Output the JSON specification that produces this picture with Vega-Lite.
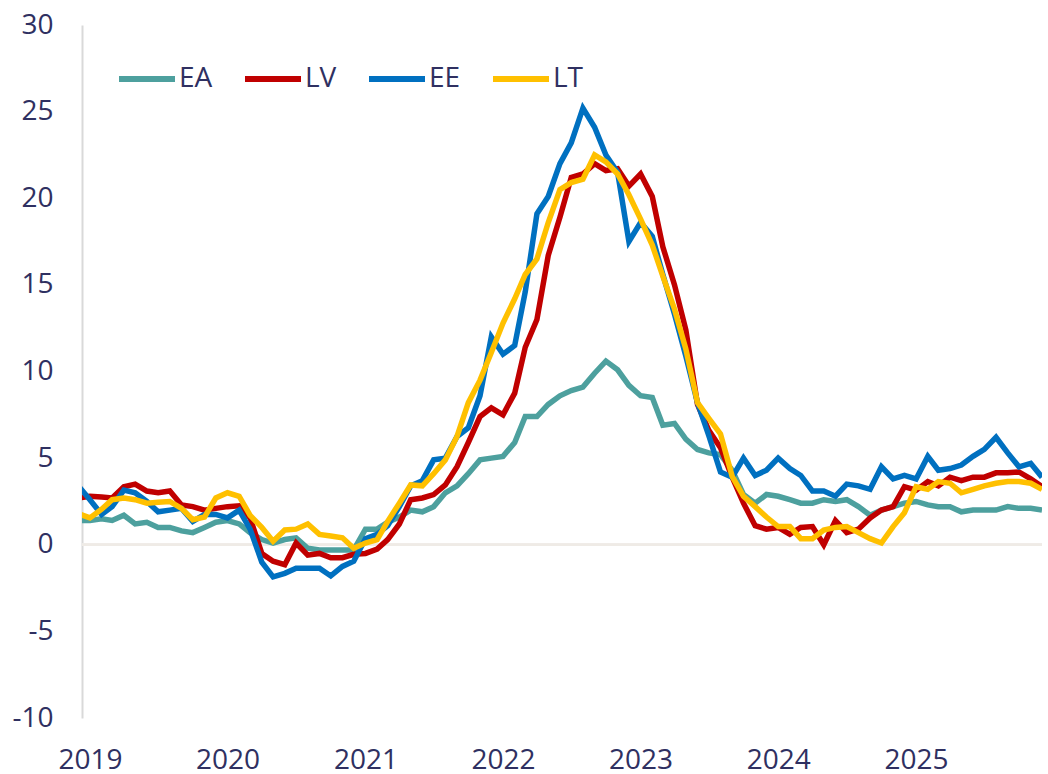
{
  "$schema": "https://vega.github.io/schema/vega-lite/v6.json",
  "width": 960,
  "height": 693,
  "autosize": {"type": "none"},
  "padding": {"left": 82, "top": 25, "right": 6, "bottom": 56},
  "background": "white",
  "config": {"font": "Open Sans", "view": {"stroke": null}},
  "data": {"values": [
    {"date": "2018-12-01", "EA": 1.4, "LV": 2.7, "EE": 3.4, "LT": 1.8},
    {"date": "2019-01-01", "EA": 1.4, "LV": 2.8, "EE": 2.6, "LT": 1.55},
    {"date": "2019-02-01", "EA": 1.5, "LV": 2.75, "EE": 1.75, "LT": 2.05},
    {"date": "2019-03-01", "EA": 1.4, "LV": 2.7, "EE": 2.2, "LT": 2.6},
    {"date": "2019-04-01", "EA": 1.7, "LV": 3.35, "EE": 3.15, "LT": 2.7},
    {"date": "2019-05-01", "EA": 1.2, "LV": 3.5, "EE": 3.0, "LT": 2.6},
    {"date": "2019-06-01", "EA": 1.3, "LV": 3.1, "EE": 2.5, "LT": 2.4},
    {"date": "2019-07-01", "EA": 1.0, "LV": 3.0, "EE": 1.9, "LT": 2.45},
    {"date": "2019-08-01", "EA": 1.0, "LV": 3.1, "EE": 2.0, "LT": 2.5},
    {"date": "2019-09-01", "EA": 0.8, "LV": 2.3, "EE": 2.1, "LT": 2.1},
    {"date": "2019-10-01", "EA": 0.7, "LV": 2.2, "EE": 1.35, "LT": 1.45},
    {"date": "2019-11-01", "EA": 1.0, "LV": 2.0, "EE": 1.75, "LT": 1.6},
    {"date": "2019-12-01", "EA": 1.3, "LV": 2.1, "EE": 1.75, "LT": 2.7},
    {"date": "2020-01-01", "EA": 1.4, "LV": 2.2, "EE": 1.55, "LT": 3.0},
    {"date": "2020-02-01", "EA": 1.2, "LV": 2.25, "EE": 2.0, "LT": 2.8},
    {"date": "2020-03-01", "EA": 0.7, "LV": 1.55, "EE": 0.9, "LT": 1.7},
    {"date": "2020-04-01", "EA": 0.3, "LV": -0.5, "EE": -1.0, "LT": 1.0},
    {"date": "2020-05-01", "EA": 0.1, "LV": -0.95, "EE": -1.85, "LT": 0.2},
    {"date": "2020-06-01", "EA": 0.3, "LV": -1.15, "EE": -1.65, "LT": 0.85},
    {"date": "2020-07-01", "EA": 0.4, "LV": 0.1, "EE": -1.35, "LT": 0.9},
    {"date": "2020-08-01", "EA": -0.2, "LV": -0.6, "EE": -1.35, "LT": 1.2},
    {"date": "2020-09-01", "EA": -0.3, "LV": -0.5, "EE": -1.35, "LT": 0.6},
    {"date": "2020-10-01", "EA": -0.3, "LV": -0.75, "EE": -1.8, "LT": 0.5},
    {"date": "2020-11-01", "EA": -0.3, "LV": -0.75, "EE": -1.25, "LT": 0.4},
    {"date": "2020-12-01", "EA": -0.3, "LV": -0.55, "EE": -0.95, "LT": -0.2},
    {"date": "2021-01-01", "EA": 0.9, "LV": -0.5, "EE": 0.35, "LT": 0.1},
    {"date": "2021-02-01", "EA": 0.9, "LV": -0.25, "EE": 0.6, "LT": 0.3},
    {"date": "2021-03-01", "EA": 1.3, "LV": 0.3, "EE": 1.1, "LT": 1.35},
    {"date": "2021-04-01", "EA": 1.6, "LV": 1.2, "EE": 2.2, "LT": 2.4},
    {"date": "2021-05-01", "EA": 2.0, "LV": 2.6, "EE": 3.4, "LT": 3.45},
    {"date": "2021-06-01", "EA": 1.9, "LV": 2.7, "EE": 3.7, "LT": 3.4},
    {"date": "2021-07-01", "EA": 2.2, "LV": 2.9, "EE": 4.9, "LT": 4.1},
    {"date": "2021-08-01", "EA": 3.0, "LV": 3.45, "EE": 5.0, "LT": 4.9},
    {"date": "2021-09-01", "EA": 3.4, "LV": 4.5, "EE": 6.25, "LT": 6.25},
    {"date": "2021-10-01", "EA": 4.1, "LV": 5.9, "EE": 6.75, "LT": 8.2},
    {"date": "2021-11-01", "EA": 4.9, "LV": 7.4, "EE": 8.6, "LT": 9.5},
    {"date": "2021-12-01", "EA": 5.0, "LV": 7.9, "EE": 12.0, "LT": 11.1},
    {"date": "2022-01-01", "EA": 5.1, "LV": 7.5, "EE": 11.0, "LT": 12.8},
    {"date": "2022-02-01", "EA": 5.9, "LV": 8.75, "EE": 11.5, "LT": 14.2},
    {"date": "2022-03-01", "EA": 7.4, "LV": 11.4, "EE": 14.6, "LT": 15.6},
    {"date": "2022-04-01", "EA": 7.4, "LV": 13.0, "EE": 19.1, "LT": 16.5},
    {"date": "2022-05-01", "EA": 8.1, "LV": 16.7, "EE": 20.1, "LT": 18.6},
    {"date": "2022-06-01", "EA": 8.6, "LV": 18.9, "EE": 22.0, "LT": 20.5},
    {"date": "2022-07-01", "EA": 8.9, "LV": 21.2, "EE": 23.2, "LT": 20.9},
    {"date": "2022-08-01", "EA": 9.1, "LV": 21.4, "EE": 25.2, "LT": 21.1},
    {"date": "2022-09-01", "EA": 9.9, "LV": 22.0, "EE": 24.1, "LT": 22.5},
    {"date": "2022-10-01", "EA": 10.6, "LV": 21.6, "EE": 22.5, "LT": 22.1},
    {"date": "2022-11-01", "EA": 10.1, "LV": 21.7, "EE": 21.5, "LT": 21.4},
    {"date": "2022-12-01", "EA": 9.2, "LV": 20.7, "EE": 17.5, "LT": 20.2},
    {"date": "2023-01-01", "EA": 8.6, "LV": 21.4, "EE": 18.6, "LT": 18.8},
    {"date": "2023-02-01", "EA": 8.5, "LV": 20.1, "EE": 17.8, "LT": 17.3},
    {"date": "2023-03-01", "EA": 6.9, "LV": 17.2, "EE": 15.6, "LT": 15.5},
    {"date": "2023-04-01", "EA": 7.0, "LV": 15.0, "EE": 13.3, "LT": 13.6},
    {"date": "2023-05-01", "EA": 6.1, "LV": 12.4, "EE": 10.9, "LT": 11.3},
    {"date": "2023-06-01", "EA": 5.5, "LV": 8.1, "EE": 8.2, "LT": 8.2},
    {"date": "2023-07-01", "EA": 5.3, "LV": 6.6, "EE": 6.3, "LT": 7.3},
    {"date": "2023-08-01", "EA": 5.2, "LV": 5.6, "EE": 4.2, "LT": 6.4},
    {"date": "2023-09-01", "EA": 4.3, "LV": 3.9, "EE": 3.9, "LT": 3.95},
    {"date": "2023-10-01", "EA": 2.9, "LV": 2.4, "EE": 5.0, "LT": 2.8},
    {"date": "2023-11-01", "EA": 2.4, "LV": 1.1, "EE": 4.0, "LT": 2.2},
    {"date": "2023-12-01", "EA": 2.9, "LV": 0.9, "EE": 4.3, "LT": 1.6},
    {"date": "2024-01-01", "EA": 2.8, "LV": 1.0, "EE": 5.0, "LT": 1.05},
    {"date": "2024-02-01", "EA": 2.6, "LV": 0.6, "EE": 4.4, "LT": 1.05},
    {"date": "2024-03-01", "EA": 2.4, "LV": 1.0, "EE": 4.0, "LT": 0.35},
    {"date": "2024-04-01", "EA": 2.4, "LV": 1.05, "EE": 3.1, "LT": 0.35},
    {"date": "2024-05-01", "EA": 2.6, "LV": 0.0, "EE": 3.1, "LT": 0.85},
    {"date": "2024-06-01", "EA": 2.5, "LV": 1.4, "EE": 2.8, "LT": 1.0},
    {"date": "2024-07-01", "EA": 2.6, "LV": 0.7, "EE": 3.5, "LT": 1.05},
    {"date": "2024-08-01", "EA": 2.2, "LV": 0.9, "EE": 3.4, "LT": 0.7},
    {"date": "2024-09-01", "EA": 1.7, "LV": 1.55, "EE": 3.2, "LT": 0.35},
    {"date": "2024-10-01", "EA": 2.0, "LV": 2.0, "EE": 4.5, "LT": 0.1},
    {"date": "2024-11-01", "EA": 2.2, "LV": 2.2, "EE": 3.8, "LT": 1.05},
    {"date": "2024-12-01", "EA": 2.4, "LV": 3.35, "EE": 4.0, "LT": 1.85},
    {"date": "2025-01-01", "EA": 2.5, "LV": 3.15, "EE": 3.8, "LT": 3.35},
    {"date": "2025-02-01", "EA": 2.3, "LV": 3.65, "EE": 5.1, "LT": 3.2},
    {"date": "2025-03-01", "EA": 2.2, "LV": 3.4, "EE": 4.3, "LT": 3.65},
    {"date": "2025-04-01", "EA": 2.2, "LV": 3.9, "EE": 4.4, "LT": 3.55},
    {"date": "2025-05-01", "EA": 1.9, "LV": 3.7, "EE": 4.6, "LT": 3.0},
    {"date": "2025-06-01", "EA": 2.0, "LV": 3.9, "EE": 5.1, "LT": 3.2},
    {"date": "2025-07-01", "EA": 2.0, "LV": 3.9, "EE": 5.5, "LT": 3.4},
    {"date": "2025-08-01", "EA": 2.0, "LV": 4.15, "EE": 6.2, "LT": 3.55},
    {"date": "2025-09-01", "EA": 2.2, "LV": 4.15, "EE": 5.3, "LT": 3.65},
    {"date": "2025-10-01", "EA": 2.1, "LV": 4.2, "EE": 4.5, "LT": 3.65},
    {"date": "2025-11-01", "EA": 2.1, "LV": 3.8, "EE": 4.7, "LT": 3.55},
    {"date": "2025-12-01", "EA": 2.0, "LV": 3.35, "EE": 3.9, "LT": 3.2}
  ]},
  "layer": [
    {
      "mark": {"type": "rule", "color": "#EFEBE6", "strokeWidth": 2},
      "encoding": {
        "y": {"datum": 0, "type": "quantitative", "scale": {"domain": [-10, 30], "nice": false}}
      }
    },
    {
      "transform": [{"fold": ["EA", "LV", "EE", "LT"], "as": ["series", "value"]}],
      "mark": {"type": "line", "strokeWidth": 5.5, "clip": true},
      "encoding": {
        "x": {
          "field": "date",
          "type": "temporal",
          "scale": {
            "type": "utc",
            "domain": [
              {"year": 2018, "month": 12, "date": 11, "utc": true},
              {"year": 2025, "month": 12, "date": 1, "utc": true}
            ]
          },
          "axis": {
            "title": null,
            "values": [
              {"year": 2019, "month": 1, "date": 1, "utc": true},
              {"year": 2020, "month": 1, "date": 1, "utc": true},
              {"year": 2021, "month": 1, "date": 1, "utc": true},
              {"year": 2022, "month": 1, "date": 1, "utc": true},
              {"year": 2023, "month": 1, "date": 1, "utc": true},
              {"year": 2024, "month": 1, "date": 1, "utc": true},
              {"year": 2025, "month": 1, "date": 1, "utc": true}
            ],
            "format": "%Y",
            "formatType": "utc",
            "domain": false,
            "ticks": false,
            "grid": false,
            "labelFont": "Open Sans",
            "labelFontSize": 28,
            "labelColor": "#2F3061",
            "labelPadding": 28,
            "labelFlush": false,
            "labelOverlap": false
          }
        },
        "y": {
          "field": "value",
          "type": "quantitative",
          "scale": {"domain": [-10, 30], "nice": false},
          "axis": {
            "title": null,
            "values": [-10, -5, 0, 5, 10, 15, 20, 25, 30],
            "labelExpr": "'' + datum.value",
            "grid": false,
            "ticks": false,
            "domain": true,
            "domainColor": "#D9D9D9",
            "domainWidth": 2,
            "labelFont": "Open Sans",
            "labelFontSize": 28,
            "labelColor": "#2F3061",
            "labelPadding": 29
          }
        },
        "color": {
          "field": "series",
          "type": "nominal",
          "sort": ["EA", "LV", "EE", "LT"],
          "scale": {"domain": ["EA", "LV", "EE", "LT"], "range": ["#4DA09E", "#C00000", "#0070C0", "#FFC000"]},
          "legend": {
            "orient": "none",
            "legendX": 34,
            "legendY": 23,
            "direction": "horizontal",
            "title": null,
            "symbolType": "stroke",
            "symbolSize": 3136,
            "symbolStrokeWidth": 6,
            "labelFont": "Open Sans",
            "labelFontSize": 28,
            "labelColor": "#2F3061",
            "labelOffset": 1,
            "columnPadding": 20
          }
        }
      }
    }
  ]
}
